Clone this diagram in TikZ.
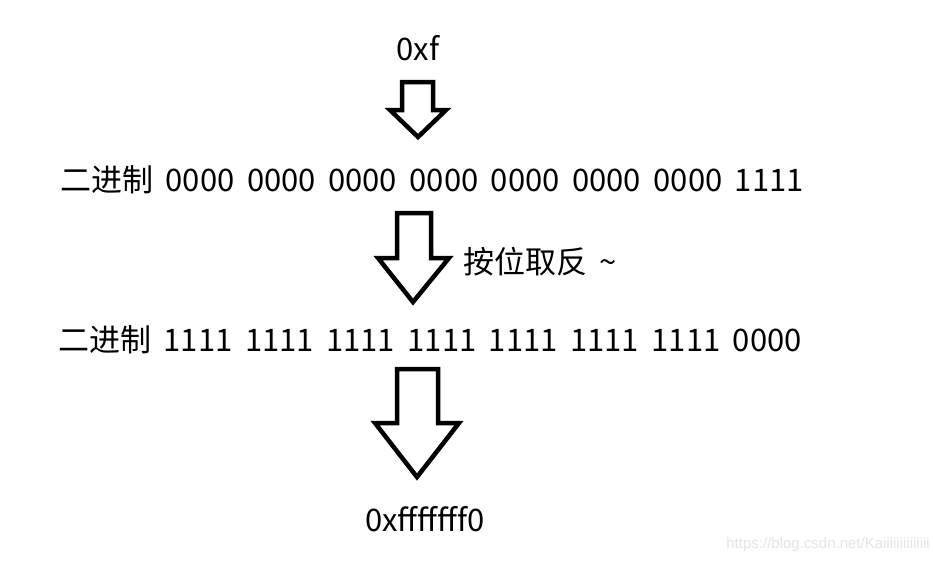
\documentclass[tikz,border=0pt]{standalone}
\usepackage{fontspec}
\setmainfont{Noto Sans CJK SC}
\newfontfamily\markfont{Liberation Sans}
\usetikzlibrary{positioning}

\tikzset{
  bintext/.style={inner sep=0pt, font=\fontsize{31}{35}\selectfont,
    execute at begin node={\spaceskip=12.5pt\relax}},
  bigarrow/.style={draw=black, line width=4.5pt, fill=white, line join=miter},
}

\begin{document}
\begin{tikzpicture}[x=1pt, y=-1pt]
\useasboundingbox[fill=white] (0,0) rectangle (933,563);

\node[bintext] (hexin) at (418,48) {0xf};
\node[bintext] (binin) at (432,180) {二进制 0000 0000 0000 0000 0000 0000 0000 1111};
\node[bintext] (binout) at (430,340) {二进制 1111 1111 1111 1111 1111 1111 1111 0000};
\node[bintext] (hexout) at (425,519) {0xfffffff0};

% the three block arrows
\draw[bigarrow] (402,82) -- (433,82) -- (433,110) -- (446,110) -- (418,137) -- (390,110) -- (402,110) -- cycle;
\draw[bigarrow] (397,213) -- (431,213) -- (431,258) -- (449,258) -- (413,302) -- (378,258) -- (397,258) -- cycle;
\draw[bigarrow] (397,369) -- (438,369) -- (438,423) -- (459,423) -- (417,477) -- (375,423) -- (397,423) -- cycle;

\node[bintext, anchor=west] (notop) at (463,262) {按位取反 \textasciitilde};

\node[inner sep=0pt, anchor=east, text=black!10, font=\markfont\fontsize{15}{18}\selectfont] (mark) at (930,545) {https://blog.csdn.net/Kaiiiiiiiiiiiiii};
\end{tikzpicture}
\end{document}
